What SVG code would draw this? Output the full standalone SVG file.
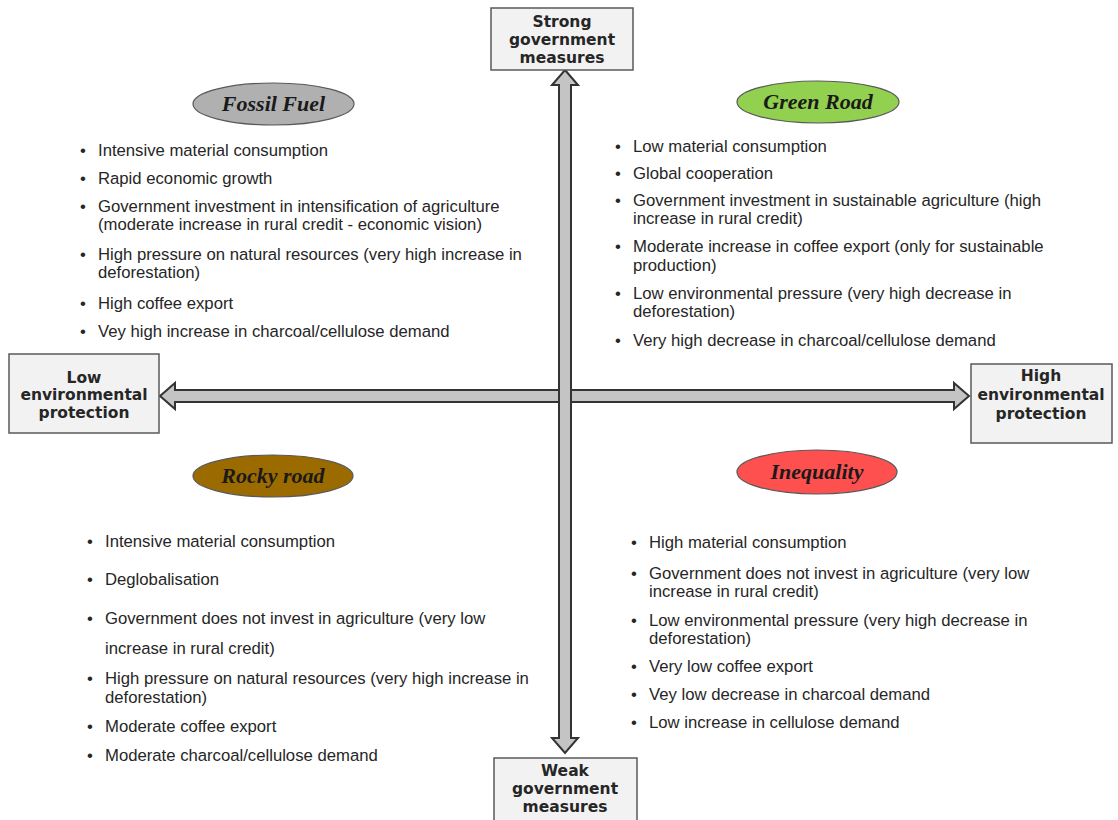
<svg xmlns="http://www.w3.org/2000/svg" width="1118" height="820" viewBox="0 0 1118 820">
<style>
.box{fill:#f2f2f2;stroke:#595959;stroke-width:1.5}
.bt{font-family:"DejaVu Sans",Verdana,sans-serif;font-weight:bold;font-size:15.5px;fill:#262626;text-anchor:middle}
.arr{fill:#c4c4c4;stroke:#333;stroke-width:2;stroke-linejoin:miter}
.ell{stroke:#595959;stroke-width:1.2}
.et{font-family:"Liberation Serif","Times New Roman",serif;font-weight:bold;font-style:italic;font-size:22px;fill:#1a1a1a;text-anchor:middle}
.li{font-family:"Liberation Sans",Arial,sans-serif;font-size:16.7px;fill:#262626}
</style>
<rect width="1118" height="820" fill="#ffffff"/>
<g id="connectors">
<polygon class="arr" points="160,396 175,383 175,390 954,390 954,383 969,396 954,409 954,402 175,402 175,409"/>
<polygon class="arr" points="565,70 578,85 571,85 571,738 578,738 565,753 552,738 559,738 559,85 552,85"/>
</g>
<g id="strong">
<rect class="box" x="491" y="8" width="142" height="62"/>
<text class="bt" x="562" y="27">Strong</text>
<text class="bt" x="562" y="45">government</text>
<text class="bt" x="562" y="63">measures</text>
</g>
<g id="weak">
<rect class="box" x="494" y="758" width="143" height="70"/>
<text class="bt" x="565" y="776">Weak</text>
<text class="bt" x="565" y="794">government</text>
<text class="bt" x="565" y="812">measures</text>
</g>
<g id="low">
<rect class="box" x="9" y="354" width="150" height="79"/>
<text class="bt" x="84" y="383">Low</text>
<text class="bt" x="84" y="400">environmental</text>
<text class="bt" x="84" y="418">protection</text>
</g>
<g id="high">
<rect class="box" x="971" y="364" width="141" height="79"/>
<text class="bt" x="1041" y="381">High</text>
<text class="bt" x="1041" y="400">environmental</text>
<text class="bt" x="1041" y="419">protection</text>
</g>
<g id="fossil">
<ellipse class="ell" cx="273.5" cy="104" rx="80.5" ry="21" fill="#b0b0b0"/>
<text class="et" x="273.5" y="111">Fossil Fuel</text>
<g class="li">
<text x="80" y="156">•</text><text x="98" y="156">Intensive material consumption</text>
<text x="80" y="184">•</text><text x="98" y="184">Rapid economic growth</text>
<text x="80" y="212">•</text><text x="98" y="212">Government investment in intensification of agriculture</text>
<text x="98" y="230">(moderate increase in rural credit - economic vision)</text>
<text x="80" y="260">•</text><text x="98" y="260">High pressure on natural resources (very high increase in</text>
<text x="98" y="278">deforestation)</text>
<text x="80" y="309">•</text><text x="98" y="309">High coffee export</text>
<text x="80" y="337">•</text><text x="98" y="337">Vey high increase in charcoal/cellulose demand</text>
</g>
</g>
<g id="green">
<ellipse class="ell" cx="818" cy="102" rx="81" ry="21" fill="#92d050"/>
<text class="et" x="818" y="109">Green Road</text>
<g class="li">
<text x="615" y="152">•</text><text x="633" y="152">Low material consumption</text>
<text x="615" y="179">•</text><text x="633" y="179">Global cooperation</text>
<text x="615" y="206">•</text><text x="633" y="206">Government investment in sustainable agriculture (high</text>
<text x="633" y="224">increase in rural credit)</text>
<text x="615" y="252">•</text><text x="633" y="252">Moderate increase in coffee export (only for sustainable</text>
<text x="633" y="271">production)</text>
<text x="615" y="299">•</text><text x="633" y="299">Low environmental pressure (very high decrease in</text>
<text x="633" y="317">deforestation)</text>
<text x="615" y="346">•</text><text x="633" y="346">Very high decrease in charcoal/cellulose demand</text>
</g>
</g>
<g id="rocky">
<ellipse class="ell" cx="273" cy="476" rx="80" ry="21" fill="#9c6b00"/>
<text class="et" x="273" y="483">Rocky road</text>
<g class="li">
<text x="87" y="547">•</text><text x="105" y="547">Intensive material consumption</text>
<text x="87" y="585">•</text><text x="105" y="585">Deglobalisation</text>
<text x="87" y="624">•</text><text x="105" y="624">Government does not invest in agriculture (very low</text>
<text x="105" y="654">increase in rural credit)</text>
<text x="87" y="684">•</text><text x="105" y="684">High pressure on natural resources (very high increase in</text>
<text x="105" y="703">deforestation)</text>
<text x="87" y="732">•</text><text x="105" y="732">Moderate coffee export</text>
<text x="87" y="761">•</text><text x="105" y="761">Moderate charcoal/cellulose demand</text>
</g>
</g>
<g id="inequality">
<ellipse class="ell" cx="817" cy="472" rx="80" ry="22" fill="#ff5050"/>
<text class="et" x="817" y="479">Inequality</text>
<g class="li">
<text x="631" y="548">•</text><text x="649" y="548">High material consumption</text>
<text x="631" y="579">•</text><text x="649" y="579">Government does not invest in agriculture (very low</text>
<text x="649" y="597">increase in rural credit)</text>
<text x="631" y="626">•</text><text x="649" y="626">Low environmental pressure (very high decrease in</text>
<text x="649" y="644">deforestation)</text>
<text x="631" y="672">•</text><text x="649" y="672">Very low coffee export</text>
<text x="631" y="700">•</text><text x="649" y="700">Vey low decrease in charcoal demand</text>
<text x="631" y="728">•</text><text x="649" y="728">Low increase in cellulose demand</text>
</g>
</g>
</svg>
